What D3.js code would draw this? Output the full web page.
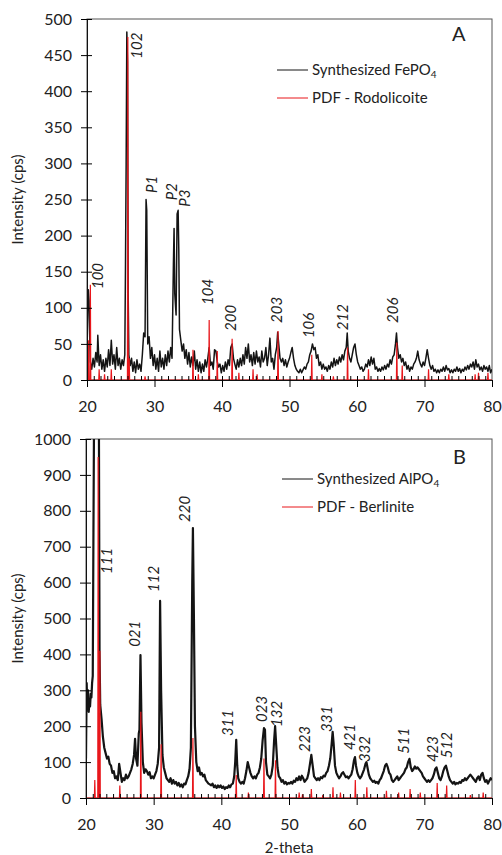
<!DOCTYPE html>
<html>
<head>
<meta charset="utf-8">
<script src="https://cdnjs.cloudflare.com/ajax/libs/d3/7.8.5/d3.min.js"></script>
<style>
  body { margin: 0; background: #fff; }
  svg text { font-family: Lato, "Open Sans", sans-serif; fill: #222; }
</style>
</head>
<body>
<svg id="chart" width="502" height="855"></svg>
<script>
// ---- data: panel A (FePO4) ----
const fePattern = [
  [20.0,40],[20.1,95],[20.2,125],[20.3,110],[20.4,60],[20.5,25],[20.7,15],[20.9,30],[21.1,18],[21.3,38],
  [21.5,25],[21.6,62],[21.8,20],[22.0,35],[22.2,15],[22.4,28],[22.6,12],[22.8,30],[23.0,18],[23.2,42],
  [23.4,20],[23.6,55],[23.8,22],[24.0,35],[24.2,15],[24.4,45],[24.6,20],[24.8,30],[25.0,15],[25.2,28],
  [25.4,20],[25.6,35],[25.7,155],[25.8,300],[25.9,482],[26.0,440],[26.1,120],[26.2,35],[26.4,20],[26.6,30],
  [26.8,12],[27.0,25],[27.2,10],[27.4,28],[27.6,15],[27.8,22],[28.0,12],[28.2,35],[28.4,65],[28.6,60],
  [28.75,250],[28.85,235],[29.0,50],[29.2,60],[29.4,30],[29.6,45],[29.8,20],[30.0,35],[30.2,15],[30.4,30],
  [30.6,12],[30.8,40],[31.0,18],[31.2,30],[31.4,15],[31.6,35],[31.8,20],[32.0,40],[32.2,25],[32.4,45],
  [32.6,30],[32.8,160],[32.9,210],[33.0,120],[33.2,90],[33.35,230],[33.5,235],[33.6,180],[33.7,70],[33.9,55],
  [34.1,40],[34.3,50],[34.5,30],[34.7,42],[34.9,22],[35.1,38],[35.3,18],[35.5,32],[35.7,20],[35.9,40],
  [36.1,15],[36.3,28],[36.5,12],[36.7,25],[36.9,10],[37.1,22],[37.3,12],[37.5,28],[37.7,18],[37.9,30],
  [38.1,45],[38.3,20],[38.5,25],[38.7,15],[38.9,42],[39.1,40],[39.3,25],[39.5,18],[39.7,22],[39.9,10],
  [40.1,20],[40.3,12],[40.5,25],[40.7,15],[40.9,28],[41.1,20],[41.3,45],[41.5,50],[41.7,30],[41.9,22],
  [42.1,15],[42.3,28],[42.5,18],[42.7,30],[42.9,20],[43.1,35],[43.3,22],[43.5,45],[43.7,30],[43.9,50],
  [44.1,25],[44.3,35],[44.5,20],[44.7,38],[44.9,22],[45.1,40],[45.3,25],[45.5,32],[45.7,18],[45.9,40],
  [46.1,25],[46.3,30],[46.5,45],[46.7,20],[46.9,35],[47.1,58],[47.3,25],[47.5,30],[47.7,15],[47.9,35],
  [48.1,45],[48.25,66],[48.4,50],[48.6,30],[48.8,25],[49.0,30],[49.2,20],[49.4,28],[49.6,18],[49.8,25],
  [50.0,30],[50.2,38],[50.4,45],[50.6,30],[50.8,20],[51.0,15],[51.2,12],[51.4,10],[51.6,15],[51.8,10],
  [52.0,14],[52.2,18],[52.4,15],[52.6,22],[52.8,25],[53.0,35],[53.2,40],[53.4,50],[53.6,42],[53.8,45],
  [54.0,30],[54.2,35],[54.4,20],[54.6,25],[54.8,15],[55.0,22],[55.2,15],[55.4,18],[55.6,12],[55.8,20],
  [56.0,15],[56.2,25],[56.4,18],[56.6,30],[56.8,20],[57.0,28],[57.2,22],[57.4,32],[57.6,25],[57.8,35],
  [58.0,28],[58.2,40],[58.4,45],[58.55,65],[58.7,40],[58.9,30],[59.1,25],[59.3,35],[59.5,45],[59.7,50],
  [59.9,35],[60.1,25],[60.3,20],[60.5,15],[60.7,18],[60.9,12],[61.1,15],[61.3,22],[61.5,18],[61.7,28],
  [61.9,20],[62.1,32],[62.3,22],[62.5,30],[62.7,15],[62.9,18],[63.1,12],[63.3,16],[63.5,12],[63.7,18],
  [63.9,14],[64.1,20],[64.3,15],[64.5,22],[64.7,18],[64.9,28],[65.1,22],[65.3,32],[65.5,35],[65.7,50],
  [65.85,65],[66.0,45],[66.2,30],[66.4,35],[66.6,25],[66.8,30],[67.0,20],[67.2,25],[67.4,15],[67.6,20],
  [67.8,12],[68.0,18],[68.2,15],[68.4,22],[68.6,25],[68.8,30],[69.0,40],[69.2,28],[69.4,22],[69.6,18],
  [69.8,25],[70.0,20],[70.2,30],[70.4,42],[70.6,30],[70.8,20],[71.0,15],[71.2,20],[71.4,12],[71.6,15],
  [71.8,10],[72.0,14],[72.2,10],[72.4,15],[72.6,12],[72.8,18],[73.0,12],[73.2,20],[73.4,14],[73.6,16],
  [73.8,10],[74.0,14],[74.2,10],[74.4,15],[74.6,12],[74.8,18],[75.0,12],[75.2,16],[75.4,10],[75.6,15],
  [75.8,12],[76.0,18],[76.2,14],[76.4,20],[76.6,15],[76.8,22],[77.0,18],[77.2,25],[77.4,15],[77.6,28],
  [77.8,18],[78.0,22],[78.2,14],[78.4,18],[78.6,12],[78.8,20],[79.0,15],[79.2,18],[79.4,12],[79.6,20],
  [79.8,10],[80.0,15]
];
// reference lines (PDF rodolicoite): position, height
const rodolicoite = [
  [20.2,55],[20.5,132],[21.8,15],[22.6,8],[23.6,15],[26.05,475],[26.25,30],[28.6,5],[35.7,42],[36.5,8],
  [38.1,83],[39.3,40],[41.5,57],[42.5,10],[44.6,15],[45.2,8],[48.3,68],[53.3,35],[54.8,8],[56.5,5],
  [58.6,45],[61.7,15],[65.9,52],[66.7,20],[70.6,15],[73.6,8],[77.5,8],[78.0,10],[79.4,10]
];
const feLabels = ["100","102","P1","P2","P3","104","200","203","106","212","206"];
const feLabelPos = [[21.6,126],[27.3,445],[29.6,259],[32.6,249],[34.5,240],[37.9,104],[41.3,68],[48.1,79],[52.9,58],[57.9,69],[65.3,79]];

// ---- data: panel B (AlPO4) ----
const alPattern = [
  [20.0,110],[20.1,320],[20.2,250],[20.3,300],[20.4,240],[20.5,265],[20.6,255],[20.7,290],[20.8,280],[20.9,320],
  [21.0,340],[21.1,740],[21.2,1100],[21.9,1100],[22.0,410],[22.1,260],[22.3,220],[22.5,170],[22.7,140],[22.9,125],
  [23.1,110],[23.3,115],[23.5,95],[23.7,90],[23.9,70],[24.1,75],[24.3,55],[24.5,60],[24.7,50],[24.9,95],
  [25.1,70],[25.3,45],[25.5,55],[25.7,50],[25.9,65],[26.1,55],[26.3,60],[26.5,70],[26.7,80],[26.9,95],
  [27.1,120],[27.25,165],[27.4,110],[27.6,90],[27.8,180],[27.9,190],[28.05,398],[28.2,210],[28.4,100],[28.6,70],
  [28.8,80],[29.0,75],[29.2,65],[29.4,72],[29.6,55],[29.8,60],[30.0,55],[30.2,65],[30.4,75],[30.6,95],
  [30.8,140],[30.95,549],[31.1,300],[31.3,120],[31.5,85],[31.7,70],[31.9,55],[32.1,50],[32.3,45],[32.5,55],
  [32.7,40],[32.9,50],[33.1,40],[33.3,45],[33.5,35],[33.7,42],[33.9,32],[34.1,38],[34.3,30],[34.5,40],
  [34.7,38],[34.9,50],[35.1,60],[35.3,80],[35.5,140],[35.7,600],[35.8,752],[35.95,500],[36.1,200],[36.3,100],
  [36.5,75],[36.7,85],[36.9,65],[37.1,70],[37.3,60],[37.5,65],[37.7,50],[37.9,45],[38.1,40],[38.3,38],
  [38.5,35],[38.7,40],[38.9,30],[39.1,35],[39.3,28],[39.5,35],[39.7,30],[39.9,35],[40.1,28],[40.3,32],
  [40.5,25],[40.7,30],[40.9,28],[41.1,35],[41.3,30],[41.5,38],[41.7,40],[41.9,60],[42.05,100],[42.2,162],
  [42.35,90],[42.5,55],[42.7,45],[42.9,40],[43.1,45],[43.3,40],[43.5,55],[43.7,75],[43.9,100],[44.1,85],
  [44.3,70],[44.5,60],[44.7,55],[44.9,60],[45.1,55],[45.3,65],[45.5,70],[45.7,85],[45.9,110],[46.1,160],
  [46.3,195],[46.45,190],[46.6,100],[46.8,65],[47.0,60],[47.2,55],[47.4,65],[47.6,90],[47.8,160],[47.95,200],
  [48.1,150],[48.3,85],[48.5,60],[48.7,55],[48.9,45],[49.1,50],[49.3,40],[49.5,45],[49.7,38],[49.9,42],
  [50.1,40],[50.3,45],[50.5,40],[50.7,48],[50.9,45],[51.1,55],[51.3,50],[51.5,60],[51.7,50],[51.9,62],
  [52.1,55],[52.3,45],[52.5,50],[52.7,55],[52.9,70],[53.1,95],[53.3,120],[53.5,90],[53.7,60],[53.9,55],
  [54.1,50],[54.3,55],[54.5,50],[54.7,58],[54.9,55],[55.1,62],[55.3,60],[55.5,70],[55.7,75],[55.9,90],
  [56.1,110],[56.3,150],[56.45,184],[56.6,150],[56.8,90],[57.0,70],[57.2,62],[57.4,55],[57.6,60],[57.8,68],
  [58.0,72],[58.2,65],[58.4,58],[58.6,60],[58.8,55],[59.0,60],[59.2,65],[59.4,80],[59.6,105],[59.75,114],
  [59.9,90],[60.1,70],[60.3,60],[60.5,55],[60.7,60],[60.9,70],[61.1,80],[61.3,95],[61.45,100],[61.6,85],
  [61.8,65],[62.0,55],[62.2,50],[62.4,45],[62.6,48],[62.8,42],[63.0,45],[63.2,40],[63.4,50],[63.6,55],
  [63.8,65],[64.0,75],[64.2,90],[64.4,95],[64.6,85],[64.8,70],[65.0,65],[65.2,50],[65.4,45],[65.6,50],
  [65.8,55],[66.0,60],[66.2,50],[66.4,55],[66.6,60],[66.8,65],[67.0,70],[67.2,80],[67.4,85],[67.6,100],
  [67.8,109],[68.0,85],[68.2,75],[68.4,80],[68.6,88],[68.8,82],[69.0,85],[69.2,80],[69.4,75],[69.6,70],
  [69.8,60],[70.0,55],[70.2,50],[70.4,45],[70.6,50],[70.8,45],[71.0,50],[71.2,55],[71.4,65],[71.6,80],
  [71.8,85],[72.0,70],[72.2,55],[72.4,50],[72.6,60],[72.8,75],[73.0,85],[73.2,90],[73.4,75],[73.6,60],
  [73.8,50],[74.0,45],[74.2,40],[74.4,45],[74.6,38],[74.8,42],[75.0,40],[75.2,45],[75.4,42],[75.6,50],
  [75.8,48],[76.0,55],[76.2,50],[76.4,55],[76.6,60],[76.8,65],[77.0,60],[77.2,55],[77.4,50],[77.6,45],
  [77.8,55],[78.0,60],[78.2,50],[78.4,65],[78.6,70],[78.8,55],[79.0,45],[79.2,50],[79.4,40],[79.6,48],
  [79.8,55],[80.0,50]
];
const berlinite = [
  [21.3,50],[21.8,950],[22.05,410],[25.0,35],[28.1,240],[31.1,150],[35.8,167],[42.2,64],[44.0,15],[46.3,110],
  [48.0,105],[51.5,15],[52.0,10],[53.3,25],[55.0,8],[56.5,30],[57.6,15],[59.8,50],[61.5,30],[64.4,20],
  [66.2,15],[67.9,25],[69.4,15],[71.9,42],[73.3,35],[76.8,8],[78.7,15]
];
const alLabels = ["111","021","112","220","311","023","132","223","331","421","332","511","423","512"];
const alLabelPos = [[23.1,624],[27.2,421],[30.0,574],[34.6,769],[41.0,173],[46.0,212],[48.2,198],[52.3,128],[55.6,184],[59.0,134],[61.2,100],[67.0,123],[71.3,100],[73.3,111]];

const xTicks = [20, 30, 40, 50, 60, 70, 80];
const feYTicks = [0, 50, 100, 150, 200, 250, 300, 350, 400, 450, 500];
const alYTicks = [0, 100, 200, 300, 400, 500, 600, 700, 800, 900, 1000];

const svg = d3.select('#chart');

function drawPanel(cfg) {
    const x = d3.scaleLinear().domain([20, 80]).range([cfg.left, cfg.right]);
    const y = d3.scaleLinear().domain([0, cfg.yMax]).range([cfg.bottom, cfg.top]);
    const g = svg.append('g').attr('class', 'panel-' + cfg.tag);

    const clipId = 'clip-' + cfg.tag;
    g.append('clipPath').attr('id', clipId)
        .append('rect')
        .attr('x', cfg.left).attr('y', cfg.top)
        .attr('width', cfg.right - cfg.left).attr('height', cfg.bottom - cfg.top + 1);

    // frame (top / right)
    g.append('rect')
        .attr('x', cfg.left).attr('y', cfg.top)
        .attr('width', cfg.right - cfg.left).attr('height', cfg.bottom - cfg.top)
        .attr('fill', 'none').attr('stroke', '#555').attr('stroke-width', 1);

    const line = d3.line().x(d => x(d[0])).y(d => y(d[1]));

    // measured pattern
    g.append('path')
        .datum(cfg.pattern)
        .attr('clip-path', `url(#${clipId})`)
        .attr('d', line)
        .attr('fill', 'none')
        .attr('stroke', '#141414')
        .attr('stroke-width', cfg.lineWidth)
        .attr('stroke-linejoin', 'round');

    // reference lines drawn as narrow peaks on a zero baseline
    const refPts = [[20, 0]];
    cfg.reference.forEach(p => {
        refPts.push([p[0] - 0.06, 0], [p[0], p[1]], [p[0] + 0.06, 0]);
    });
    refPts.push([80, 0]);
    g.append('path')
        .datum(refPts)
        .attr('clip-path', `url(#${clipId})`)
        .attr('d', line)
        .attr('fill', 'none')
        .attr('stroke', '#e8161b')
        .attr('stroke-width', 1.2);

    // y axis, ticks crossing the line
    const yAxis = g.append('g')
        .attr('transform', `translate(${cfg.left},0)`)
        .call(d3.axisLeft(y).tickValues(cfg.yTicks).tickFormat(d3.format('d'))
            .tickSize(6).tickPadding(9).tickSizeOuter(0));
    yAxis.selectAll('.tick line').attr('x1', 5);
    yAxis.selectAll('text').attr('font-size', 16).attr('fill', '#222');
    yAxis.select('.domain').attr('stroke', '#111');

    // x axis: major ticks outward, minor ticks inward
    const xAxis = g.append('g')
        .attr('transform', `translate(0,${cfg.bottom})`)
        .call(d3.axisBottom(x).tickValues(xTicks).tickSize(7).tickPadding(14).tickSizeOuter(0));
    xAxis.selectAll('text').attr('font-size', 16).attr('fill', '#222');
    xAxis.select('.domain').attr('stroke', '#111');
    g.append('g')
        .attr('transform', `translate(0,${cfg.bottom})`)
        .call(d3.axisBottom(x).tickValues(d3.range(21, 80)).tickSize(-4).tickFormat('').tickSizeOuter(0))
        .call(a => a.select('.domain').remove());

    // y title
    g.append('text')
        .attr('transform', `translate(23,${(cfg.top + cfg.bottom) / 2}) rotate(-90)`)
        .attr('text-anchor', 'middle')
        .attr('font-size', 15)
        .text('Intensity (cps)');

    // peak labels
    g.selectAll('text.peak')
        .data(cfg.labels)
        .enter()
        .append('text')
        .attr('class', 'peak')
        .attr('transform', (d, i) => `translate(${x(cfg.labelPos[i][0])},${y(cfg.labelPos[i][1])}) rotate(-90)`)
        .attr('dy', '0.35em')
        .attr('font-size', 15)
        .attr('font-style', 'italic')
        .text(d => d);

    // legend
    const leg = g.append('g').attr('transform', `translate(${cfg.legendX},${cfg.legendY})`);
    [['#141414', cfg.legend[0]], ['#e8161b', cfg.legend[1]]].forEach((item, i) => {
        leg.append('line')
            .attr('x1', 0).attr('x2', 31)
            .attr('y1', i * 28).attr('y2', i * 28)
            .attr('stroke', item[0]).attr('stroke-width', 1);
        const t = leg.append('text')
            .attr('x', 35).attr('y', i * 28)
            .attr('dy', '0.35em')
            .attr('font-size', 15);
        if (i === 0) {
            t.append('tspan').text(item[1]);
            t.append('tspan').attr('font-size', 10).attr('dy', '0.25em').text('4');
        } else {
            t.text(item[1]);
        }
    });

    // panel letter
    g.append('text')
        .attr('x', cfg.letterX).attr('y', cfg.letterY)
        .attr('font-family', '"Liberation Serif", "DejaVu Serif", serif')
        .attr('font-size', 20)
        .text(cfg.tag);
}

drawPanel({
    tag: 'A', left: 87, right: 492, top: 19, bottom: 380, yMax: 500,
    yTicks: feYTicks, pattern: fePattern, reference: rodolicoite,
    labels: feLabels, labelPos: feLabelPos, lineWidth: 1.5,
    legend: ['Synthesized FePO', 'PDF - Rodolicoite'], legendX: 277, legendY: 70,
    letterX: 452, letterY: 41
});

drawPanel({
    tag: 'B', left: 86, right: 492, top: 439, bottom: 798, yMax: 1000,
    yTicks: alYTicks, pattern: alPattern, reference: berlinite,
    labels: alLabels, labelPos: alLabelPos, lineWidth: 2.2,
    legend: ['Synthesized AlPO', 'PDF - Berlinite'], legendX: 282, legendY: 479,
    letterX: 453, letterY: 464
});

svg.append('text')
    .attr('x', 289).attr('y', 853)
    .attr('text-anchor', 'middle')
    .attr('font-size', 15)
    .text('2-theta');
</script>
</body>
</html>
